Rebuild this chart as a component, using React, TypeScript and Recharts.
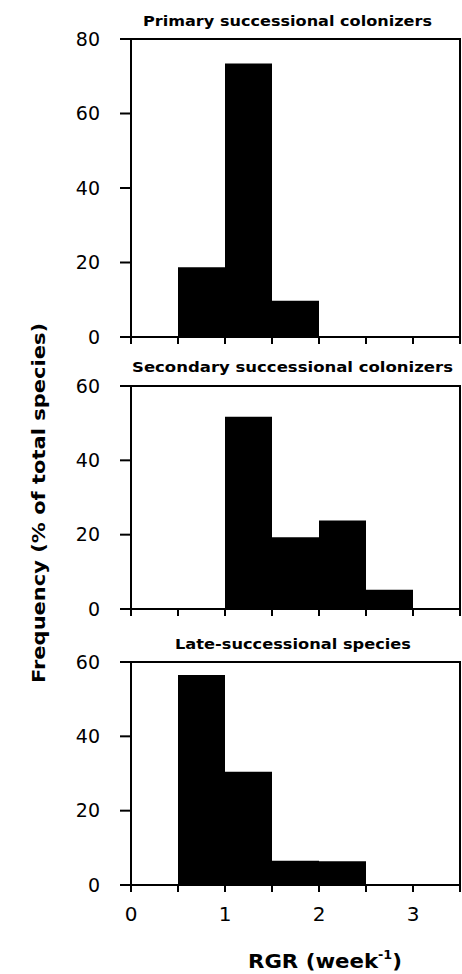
import React from 'react';
import { BarChart, Bar, XAxis, YAxis, ReferenceArea } from 'recharts';

// histogram bins of RGR (week^-1), width 0.5 -> bin centres
const binCentres = [0.25, 0.75, 1.25, 1.75, 2.25, 2.75, 3.25];

// frequency (% of total species) per bin
const primaryFreq = [0, 18.7, 73.4, 9.7, 0, 0, 0];
const secondaryFreq = [0, 0, 51.7, 19.3, 23.8, 5.2, 0];
const lateFreq = [0, 56.5, 30.5, 6.5, 6.4, 0, 0];

const xTicks = [0, 0.5, 1, 1.5, 2, 2.5, 3, 3.5];
const yTicksPrimary = [0, 20, 40, 60, 80];
const yTicksOther = [0, 20, 40, 60];

const titles = [
  'Primary successional colonizers',
  'Secondary successional colonizers',
  'Late-successional species',
];

const FONT = '"DejaVu Sans", "Open Sans", sans-serif';
const lineStyle = { stroke: '#000', strokeWidth: 2 };

interface PanelProps {
  values: number[];
  yMax: number;
  yTicks: number[];
  top: number;
  plotHeight: number;
  xAxisHeight: number;
  showXLabels: boolean;
}

function Panel({ values, yMax, yTicks, top, plotHeight, xAxisHeight, showXLabels }: PanelProps) {
  const rows = binCentres.map((x, i) => ({ x, v: values[i] }));
  const marginTop = 20;
  return (
    <div style={{ position: 'absolute', left: 0, top }}>
      <BarChart
        width={462}
        height={marginTop + plotHeight + xAxisHeight}
        data={rows}
        margin={{ top: marginTop, right: 2, left: 0, bottom: 0 }}
        barCategoryGap={0}
        barGap={0}
      >
        <XAxis
          dataKey="x"
          type="number"
          domain={[0, 3.5]}
          ticks={xTicks}
          allowDataOverflow
          height={xAxisHeight}
          stroke="#000"
          axisLine={lineStyle}
          tickLine={lineStyle}
          tickSize={7}
          tickMargin={15}
          tick={{ fill: '#000', fontSize: 20, fontFamily: FONT }}
          tickFormatter={(v: number) => (showXLabels && Number.isInteger(v) ? String(v) : '')}
          interval={0}
        />
        <YAxis
          domain={[0, yMax]}
          ticks={yTicks}
          width={131}
          stroke="#000"
          axisLine={lineStyle}
          tickLine={lineStyle}
          tickSize={11}
          tickMargin={20}
          tick={{ fill: '#000', fontSize: 19, fontFamily: FONT }}
          interval={0}
        />
        <Bar dataKey="v" fill="#000" isAnimationActive={false} />
        {/* frame round the plot area */}
        <ReferenceArea
          x1={0}
          x2={3.5}
          y1={0}
          y2={yMax}
          fill="none"
          fillOpacity={0}
          stroke="#000"
          strokeWidth={2}
          strokeOpacity={1}
          ifOverflow="visible"
        />
      </BarChart>
    </div>
  );
}

export default function App() {
  return (
    <div style={{ position: 'absolute', left: 0, top: 0, width: 462, height: 974, background: '#fff' }}>
      <Panel values={primaryFreq} yMax={80} yTicks={yTicksPrimary} top={19} plotHeight={298} xAxisHeight={16} showXLabels={false} />
      <Panel values={secondaryFreq} yMax={60} yTicks={yTicksOther} top={366} plotHeight={223} xAxisHeight={16} showXLabels={false} />
      <Panel values={lateFreq} yMax={60} yTicks={yTicksOther} top={642} plotHeight={223} xAxisHeight={50} showXLabels />
      <svg width={462} height={974} style={{ position: 'absolute', left: 0, top: 0, pointerEvents: 'none' }}>
        <g fontFamily={FONT} fontWeight="bold" fill="#000">
          <text x={143} y={26} fontSize={14.5} textLength={289} lengthAdjust="spacingAndGlyphs">{titles[0]}</text>
          <text x={132} y={372} fontSize={14.5} textLength={321} lengthAdjust="spacingAndGlyphs">{titles[1]}</text>
          <text x={175} y={649} fontSize={14.5} textLength={236} lengthAdjust="spacingAndGlyphs">{titles[2]}</text>
          <text x={248} y={968} fontSize={20} textLength={154} lengthAdjust="spacingAndGlyphs">
            RGR (week<tspan fontSize={12} dy={-9}>-1</tspan><tspan dy={9}>)</tspan>
          </text>
          <text
            transform="translate(45,683) rotate(-90)"
            fontSize={18.5}
            textLength={360}
            lengthAdjust="spacingAndGlyphs"
          >
            Frequency (% of total species)
          </text>
        </g>
      </svg>
    </div>
  );
}
